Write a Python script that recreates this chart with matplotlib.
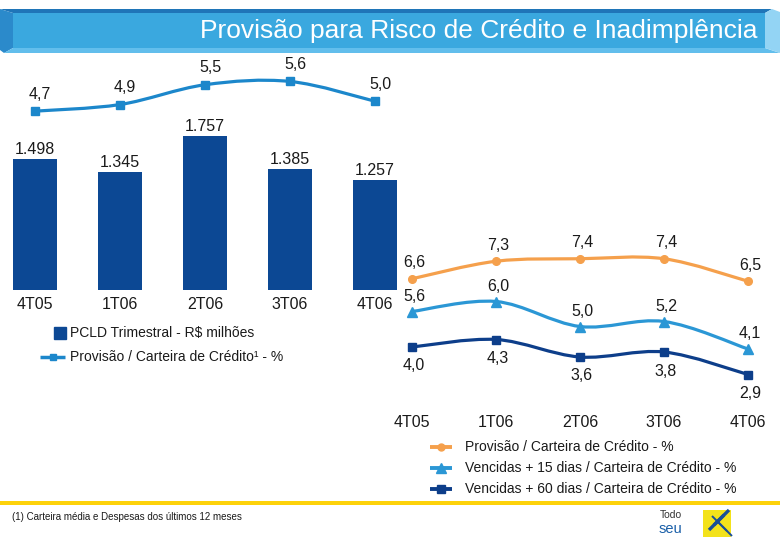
import numpy as np
import matplotlib
matplotlib.use('Agg')
import matplotlib.pyplot as plt
from matplotlib.path import Path
from matplotlib.patches import PathPatch, Polygon, Rectangle

plt.rcParams['font.family'] = ['Liberation Sans', 'DejaVu Sans']

# ---------------- data ----------------
quarters = ['4T05', '1T06', '2T06', '3T06', '4T06']
pcld_trimestral = [1498, 1345, 1757, 1385, 1257]          # R$ milhões
provisao_12m = [4.7, 4.9, 5.5, 5.6, 5.0]                   # %
provisao_carteira = [6.6, 7.3, 7.4, 7.4, 6.5]              # %
vencidas_15 = [5.6, 6.0, 5.0, 5.2, 4.1]                    # %
vencidas_60 = [4.0, 4.3, 3.6, 3.8, 2.9]                    # %

# colours
c_bar = '#0C4894'
c_line_left = '#1C87CB'
c_orange = '#F5A04C'
c_light = '#2B97D5'
c_dark = '#0D3E8A'
c_text = '#1a1a1a'

W, H = 780, 540
fs_lab = 11.5


def box(l, t, r, b):
    return [l / W, 1 - b / H, (r - l) / W, (b - t) / H]


def pct(v):
    return f'{v:.1f}'.replace('.', ',')


def milhar(v):
    return f'{v:,}'.replace(',', '.')


def smooth_path(xs, ys):
    pts = np.column_stack([xs, ys]).astype(float)
    verts = [pts[0]]
    codes = [Path.MOVETO]
    n = len(pts)
    for i in range(n - 1):
        p0 = pts[max(i - 1, 0)]
        p1 = pts[i]
        p2 = pts[i + 1]
        p3 = pts[min(i + 2, n - 1)]
        verts += [p1 + (p2 - p0) / 6, p2 - (p3 - p1) / 6, p2]
        codes += [Path.CURVE4] * 3
    return Path(verts, codes)


def clean(ax):
    for s in ax.spines.values():
        s.set_visible(False)
    ax.set_facecolor('none')
    ax.tick_params(length=0)
    ax.set_yticks([])


fig = plt.figure(figsize=(7.8, 5.4), dpi=100)

# ---------------- decoration layer (pixel coords) ----------------
deco = fig.add_axes([0, 0, 1, 1])
deco.set_xlim(0, W)
deco.set_ylim(H, 0)
deco.axis('off')

# title banner
deco.add_patch(Polygon([(0, 9), (772, 9), (765, 13), (13, 13)], closed=True, color='#1F75B8', lw=0))
deco.add_patch(Polygon([(0, 9), (13, 13), (13, 48), (4, 53), (0, 50)], closed=True, color='#2B8ACB', lw=0))
deco.add_patch(Rectangle((13, 13), 752, 35, color='#3AA8DF', lw=0))
deco.add_patch(Polygon([(13, 48), (765, 48), (780, 53), (4, 53)], closed=True, color='#62BEEC', lw=0))
deco.add_patch(Polygon([(765, 13), (772, 9), (780, 12), (780, 53), (765, 48)], closed=True, color='#93D4F4', lw=0))
deco.text(758, 31, 'Provisão para Risco de Crédito e Inadimplência', color='white',
          fontsize=19, ha='right', va='center')

# yellow rule and footer
deco.add_patch(Rectangle((0, 501), W, 4, color='#FDD20A', lw=0))
deco.text(12, 517, '(1) Carteira média e Despesas dos últimos 12 meses', fontsize=7,
          color=c_text, ha='left', va='center')
deco.text(660, 515, 'Todo', fontsize=7.5, color='#333333', ha='left', va='center')
deco.text(659, 529, 'seu', fontsize=10.5, color='#1A5FA8', ha='left', va='center')
deco.add_patch(Rectangle((703, 510), 28, 27, color='#F3E21B', lw=0))
for k in range(3):
    d = k * 5
    deco.plot([709 + d, 719 + d], [530 - d, 520 - d], color='#1A4F96', lw=2.4,
              solid_capstyle='butt')
    deco.plot([712 + d, 722 + d], [516 + d, 526 + d], color='#1A4F96', lw=1.4,
              solid_capstyle='butt')

# ---------------- left panel: bars + line ----------------
x = np.arange(len(quarters))
ax_bar = fig.add_axes(box(1, 60, 409, 290))
clean(ax_bar)
ax_bar.bar(x, pcld_trimestral, width=0.52, color=c_bar)
ax_bar.set_xlim(-0.4, 4.4)
ax_bar.set_ylim(0, 2623)
ax_bar.set_xticks(x)
ax_bar.set_xticklabels(quarters, fontsize=fs_lab, color=c_text)
ax_bar.tick_params(axis='x', pad=5)
for xi, v in zip(x, pcld_trimestral):
    ax_bar.annotate(milhar(v), (xi, v), xytext=(0, 2), textcoords='offset pixels',
                    ha='center', va='bottom', fontsize=fs_lab, color=c_text)

ax_l = ax_bar.twinx()
clean(ax_l)
ax_l.set_ylim(-0.72, 6.25)
ax_l.add_patch(PathPatch(smooth_path(x, provisao_12m), facecolor='none',
                         edgecolor=c_line_left, lw=2.3))
ax_l.plot(x, provisao_12m, ls='none', marker='s', ms=6, color=c_line_left)
for xi, v in zip(x, provisao_12m):
    ax_l.annotate(pct(v), (xi, v), xytext=(5, 17), textcoords='offset pixels',
                  ha='center', va='center', fontsize=fs_lab, color=c_text)

# left legend
deco.plot([60], [333], marker='s', ms=8.5, color=c_bar, ls='none')
deco.text(70, 333, 'PCLD Trimestral - R$ milhões', fontsize=10, color=c_text, va='center')
deco.plot([40, 65], [357, 357], color=c_line_left, lw=2.5, solid_capstyle='butt')
deco.plot([52.5], [357], marker='s', ms=5, color=c_line_left)
deco.text(70, 357, 'Provisão / Carteira de Crédito¹ - %', fontsize=10, color=c_text, va='center')

# ---------------- right panel: three lines ----------------
rbox = box(391, 235, 769, 400)
series = [
    (provisao_carteira, c_orange, 'o', 5.5, (1.75, 8.35), -16),
    (vencidas_15, c_light, '^', 7.5, (2.06, 8.66), -15),
    (vencidas_60, c_dark, 's', 6, (1.88, 8.48), 19),
]
first = None
for vals, col, mk, ms, ylim, dy in series:
    if first is None:
        ax = fig.add_axes(rbox)
        first = ax
    else:
        ax = first.twinx()
    clean(ax)
    ax.set_xlim(-0.25, 4.25)
    ax.set_ylim(*ylim)
    ax.add_patch(PathPatch(smooth_path(x, vals), facecolor='none', edgecolor=col, lw=2.3))
    ax.plot(x, vals, ls='none', marker=mk, ms=ms, color=col)
    for xi, v in zip(x, vals):
        ax.annotate(pct(v), (xi, v), xytext=(2, -dy), textcoords='offset pixels',
                    ha='center', va='center', fontsize=fs_lab, color=c_text)
first.set_xticks(x)
first.set_xticklabels(quarters, fontsize=fs_lab, color=c_text)
first.tick_params(axis='x', pad=11)

# right legend
legend_items = [
    ('Provisão / Carteira de Crédito - %', c_orange, 'o', 5),
    ('Vencidas + 15 dias / Carteira de Crédito - %', c_light, '^', 6.5),
    ('Vencidas + 60 dias / Carteira de Crédito - %', c_dark, 's', 5.5),
]
for i, (lab, col, mk, ms) in enumerate(legend_items):
    yy = 447 + i * 21
    deco.plot([430, 452], [yy, yy], color=col, lw=2.8, solid_capstyle='butt')
    deco.plot([441], [yy], marker=mk, ms=ms, color=col)
    deco.text(465, yy, lab, fontsize=10, color=c_text, va='center')

fig.savefig('out.png', dpi=100)
